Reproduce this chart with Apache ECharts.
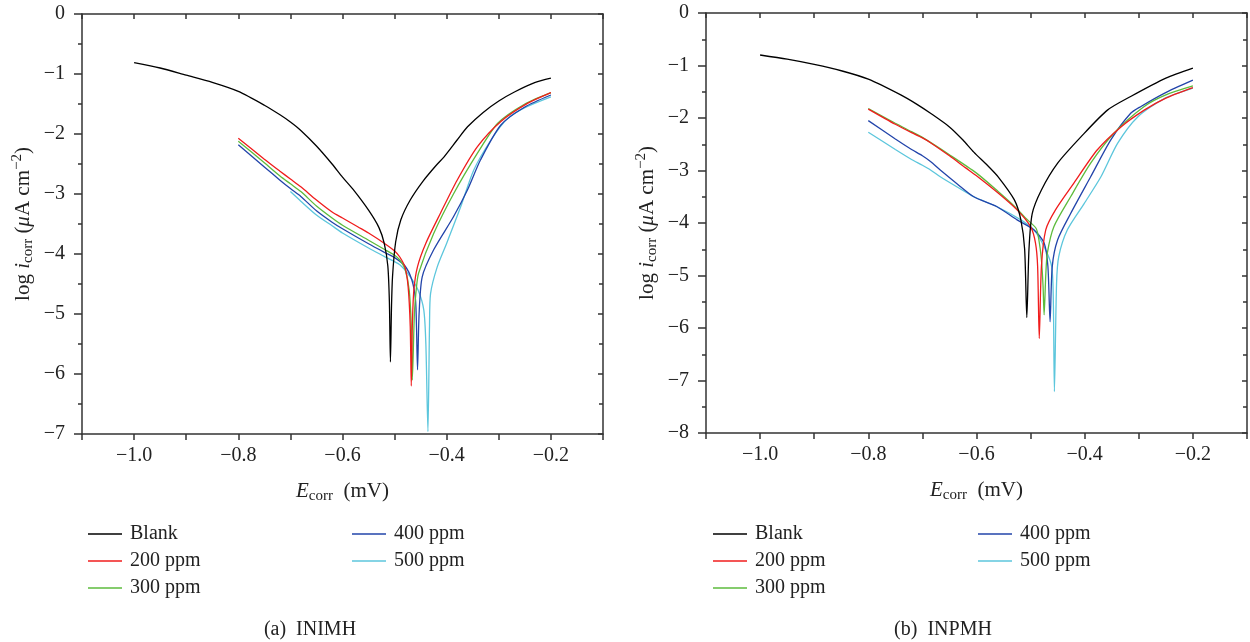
<!DOCTYPE html>
<html>
<head>
<meta charset="utf-8">
<script src="https://cdn.jsdelivr.net/npm/echarts@6/dist/echarts.min.js"></script>
<style>
html,body{margin:0;padding:0;background:#fff;}
#c{width:1250px;height:642px;}
</style>
</head>
<body>
<div id="c"></div>
<script>
// ---------- Data: [E_corr (mV), log i_corr] ----------
// (a) INIMH
const a_blank = [[-1.0,-0.81],[-0.95,-0.9],[-0.9,-1.02],[-0.85,-1.14],[-0.8,-1.29],[-0.75,-1.52],[-0.72,-1.68],[-0.7,-1.8],[-0.68,-1.94],[-0.65,-2.2],[-0.62,-2.5],[-0.6,-2.72],[-0.58,-2.92],[-0.55,-3.27],[-0.53,-3.56],[-0.52,-3.82],[-0.513,-4.2],[-0.51,-4.8],[-0.508,-5.8],[-0.506,-4.9],[-0.504,-4.38],[-0.498,-3.8],[-0.488,-3.43],[-0.47,-3.1],[-0.445,-2.78],[-0.42,-2.52],[-0.405,-2.38],[-0.38,-2.1],[-0.36,-1.88],[-0.33,-1.64],[-0.3,-1.45],[-0.27,-1.3],[-0.23,-1.14],[-0.2,-1.07]];
const a_200 = [[-0.8,-2.07],[-0.75,-2.42],[-0.72,-2.62],[-0.7,-2.75],[-0.68,-2.88],[-0.65,-3.1],[-0.62,-3.3],[-0.6,-3.4],[-0.57,-3.55],[-0.55,-3.65],[-0.52,-3.82],[-0.5,-3.95],[-0.49,-4.05],[-0.48,-4.22],[-0.474,-4.55],[-0.47,-5.2],[-0.468,-6.2],[-0.466,-5.2],[-0.463,-4.6],[-0.456,-4.21],[-0.44,-3.82],[-0.412,-3.32],[-0.38,-2.77],[-0.341,-2.21],[-0.296,-1.79],[-0.245,-1.49],[-0.2,-1.31]];
const a_300 = [[-0.8,-2.12],[-0.75,-2.48],[-0.72,-2.7],[-0.7,-2.83],[-0.68,-2.96],[-0.65,-3.2],[-0.62,-3.4],[-0.6,-3.52],[-0.55,-3.77],[-0.52,-3.92],[-0.5,-4.02],[-0.49,-4.1],[-0.48,-4.25],[-0.472,-4.6],[-0.468,-5.2],[-0.466,-6.1],[-0.462,-5.0],[-0.458,-4.55],[-0.454,-4.32],[-0.425,-3.66],[-0.387,-3.0],[-0.341,-2.32],[-0.302,-1.82],[-0.25,-1.5],[-0.2,-1.31]];
const a_400 = [[-0.8,-2.18],[-0.75,-2.55],[-0.72,-2.77],[-0.7,-2.91],[-0.68,-3.04],[-0.65,-3.28],[-0.62,-3.47],[-0.6,-3.58],[-0.55,-3.83],[-0.52,-3.97],[-0.5,-4.06],[-0.48,-4.2],[-0.467,-4.43],[-0.46,-4.75],[-0.458,-5.2],[-0.456,-5.93],[-0.453,-5.0],[-0.447,-4.38],[-0.425,-3.93],[-0.387,-3.38],[-0.36,-2.93],[-0.335,-2.43],[-0.296,-1.85],[-0.25,-1.55],[-0.2,-1.35]];
const a_500 = [[-0.7,-2.96],[-0.68,-3.12],[-0.65,-3.35],[-0.62,-3.53],[-0.6,-3.65],[-0.55,-3.9],[-0.52,-4.04],[-0.49,-4.18],[-0.47,-4.38],[-0.455,-4.6],[-0.444,-4.93],[-0.44,-5.5],[-0.436,-6.96],[-0.433,-5.2],[-0.431,-4.66],[-0.418,-4.21],[-0.4,-3.82],[-0.373,-3.21],[-0.348,-2.6],[-0.315,-2.1],[-0.283,-1.74],[-0.25,-1.56],[-0.2,-1.38]];
// (b) INPMH
const b_blank = [[-1.0,-0.8],[-0.95,-0.88],[-0.9,-0.98],[-0.85,-1.1],[-0.8,-1.26],[-0.74,-1.56],[-0.71,-1.74],[-0.685,-1.91],[-0.65,-2.17],[-0.625,-2.42],[-0.605,-2.65],[-0.58,-2.9],[-0.56,-3.12],[-0.53,-3.56],[-0.518,-3.94],[-0.511,-4.5],[-0.507,-5.8],[-0.503,-4.5],[-0.497,-3.82],[-0.48,-3.37],[-0.45,-2.86],[-0.407,-2.36],[-0.358,-1.85],[-0.315,-1.59],[-0.25,-1.24],[-0.2,-1.05]];
const b_200 = [[-0.8,-1.83],[-0.75,-2.12],[-0.72,-2.28],[-0.7,-2.38],[-0.685,-2.47],[-0.65,-2.72],[-0.62,-2.95],[-0.6,-3.1],[-0.56,-3.43],[-0.525,-3.75],[-0.5,-4.07],[-0.491,-4.38],[-0.487,-4.83],[-0.484,-6.2],[-0.48,-4.83],[-0.472,-4.13],[-0.454,-3.75],[-0.42,-3.24],[-0.377,-2.61],[-0.333,-2.17],[-0.29,-1.85],[-0.25,-1.62],[-0.2,-1.42]];
const b_300 = [[-0.8,-1.82],[-0.75,-2.1],[-0.72,-2.26],[-0.7,-2.37],[-0.65,-2.7],[-0.6,-3.05],[-0.56,-3.4],[-0.53,-3.68],[-0.51,-3.9],[-0.49,-4.1],[-0.485,-4.3],[-0.48,-4.7],[-0.477,-5.2],[-0.475,-5.75],[-0.472,-5.0],[-0.469,-4.57],[-0.457,-4.07],[-0.426,-3.5],[-0.389,-2.86],[-0.346,-2.29],[-0.29,-1.78],[-0.25,-1.56],[-0.2,-1.39]];
const b_400 = [[-0.8,-2.05],[-0.75,-2.4],[-0.72,-2.6],[-0.7,-2.72],[-0.685,-2.83],[-0.667,-2.99],[-0.635,-3.26],[-0.605,-3.5],[-0.562,-3.69],[-0.525,-3.94],[-0.494,-4.13],[-0.475,-4.38],[-0.468,-4.83],[-0.464,-5.88],[-0.46,-4.83],[-0.45,-4.32],[-0.426,-3.82],[-0.389,-3.12],[-0.352,-2.42],[-0.315,-1.91],[-0.296,-1.78],[-0.253,-1.53],[-0.2,-1.28]];
const b_500 = [[-0.8,-2.27],[-0.75,-2.6],[-0.72,-2.79],[-0.7,-2.9],[-0.685,-2.99],[-0.667,-3.12],[-0.635,-3.32],[-0.605,-3.5],[-0.562,-3.69],[-0.518,-3.94],[-0.494,-4.13],[-0.475,-4.45],[-0.461,-4.83],[-0.458,-5.47],[-0.456,-7.21],[-0.452,-5.15],[-0.448,-4.64],[-0.432,-4.13],[-0.401,-3.63],[-0.37,-3.12],[-0.339,-2.48],[-0.302,-1.98],[-0.253,-1.63],[-0.2,-1.43]];

const seriesNames = ['Blank','200 ppm','300 ppm','400 ppm','500 ppm'];
const legendCol1 = ['Blank','200 ppm','300 ppm'];
const legendCol2 = ['400 ppm','500 ppm'];
const xLabelValues = [-1.0,-0.8,-0.6,-0.4,-0.2];
const captions = ['(a)  INIMH','(b)  INPMH'];
const colors = ['#000000','#f01c1c','#5dbb3c','#2244aa','#5cc6dc'];

const FONT = '"Liberation Serif", "DejaVu Serif", serif';
const chart = echarts.init(document.getElementById('c'));

function minusFmt(v, dec){
  const s = Math.abs(v).toFixed(dec);
  return (v < -1e-9 ? '\u2212' : '') + s;
}
function xFmt(v){
  for (const t of xLabelValues){ if (Math.abs(v - t) < 1e-6) return minusFmt(v,1); }
  return '';
}
const richBase = {
  n:{fontFamily:FONT,fontSize:21,color:'#222',lineHeight:26},
  i:{fontFamily:FONT,fontSize:21,color:'#222',fontStyle:'italic',lineHeight:26},
  s:{fontFamily:FONT,fontSize:15,color:'#222',lineHeight:14,verticalAlign:'bottom'},
  p:{fontFamily:FONT,fontSize:15,color:'#222',lineHeight:14,verticalAlign:'top'}
};
const axisLineStyle = {color:'#333', width:1.5};

function makeAxes(gi, ymin){
  const xb = {type:'value', gridIndex:gi, min:-1.1, max:-0.1, interval:0.1, position:'bottom',
    axisLine:{show:true,onZero:false,lineStyle:axisLineStyle},
    axisTick:{show:true,inside:false,length:6,lineStyle:axisLineStyle},
    axisLabel:{formatter:xFmt,fontFamily:FONT,fontSize:20,color:'#222',margin:12,showMinLabel:true,showMaxLabel:true},
    splitLine:{show:false},
    name:'{i|E}{s|corr}{n|  (mV)}', nameLocation:'middle', nameGap:44,
    nameTextStyle:{rich:richBase}};
  const xt = {type:'value', gridIndex:gi, min:-1.1, max:-0.1, interval:0.1, position:'top',
    axisLine:{show:true,onZero:false,lineStyle:axisLineStyle},
    axisTick:{show:true,inside:true,length:5,lineStyle:axisLineStyle},
    axisLabel:{show:false}, splitLine:{show:false}};
  const yl = {type:'value', gridIndex:gi, min:ymin, max:0, interval:1, position:'left',
    axisLine:{show:true,onZero:false,lineStyle:axisLineStyle},
    axisTick:{show:true,inside:false,length:8,lineStyle:axisLineStyle},
    minorTick:{show:true,splitNumber:2,length:4,lineStyle:axisLineStyle},
    axisLabel:{formatter:v=>minusFmt(v,0),fontFamily:FONT,fontSize:20,color:'#222',margin:17},
    splitLine:{show:false},
    name:'{n|log }{i|i}{s|corr}{n| (}{i|\u03bc}{n|A cm}{p|\u22122}{n|)}', nameLocation:'middle', nameGap:46, nameRotate:90,
    nameTextStyle:{rich:richBase}};
  const yr = {type:'value', gridIndex:gi, min:ymin, max:0, interval:1, position:'right',
    axisLine:{show:true,onZero:false,lineStyle:axisLineStyle},
    axisTick:{show:true,inside:true,length:5,lineStyle:axisLineStyle},
    minorTick:{show:true,splitNumber:2,length:4,lineStyle:axisLineStyle},
    axisLabel:{show:false}, splitLine:{show:false}};
  return {x:[xb,xt], y:[yl,yr]};
}
const A0 = makeAxes(0,-7), A1 = makeAxes(1,-8);

const dataA = [a_blank,a_200,a_300,a_400,a_500];
const dataB = [b_blank,b_200,b_300,b_400,b_500];
const series = [];
function mkSeries(d,k,axisIdx){
  return {type:'line',name:seriesNames[k],xAxisIndex:axisIdx,yAxisIndex:axisIdx,data:d,symbol:'none',
    smooth:0.25,
    lineStyle:{color:colors[k],width:1.3},itemStyle:{color:colors[k]},z:10-k,animation:false};
}
dataA.forEach((d,k)=>series.push(mkSeries(d,k,0)));
dataB.forEach((d,k)=>series.push(mkSeries(d,k,2)));

function legend(data,left,top){
  return {data:data,left:left,top:top,orient:'vertical',icon:'rect',itemWidth:34,itemHeight:1.6,itemGap:7,
    selectedMode:false,
    textStyle:{fontFamily:FONT,fontSize:20,color:'#222',padding:[0,0,0,3]}};
}

chart.setOption({
  animation:false,
  backgroundColor:'#fff',
  grid:[{left:82,top:14,width:521,height:420},{left:706,top:13,width:541,height:420}],
  xAxis:[...A0.x,...A1.x],
  yAxis:[...A0.y,...A1.y],
  legend:[legend(legendCol1,83,519),legend(legendCol2,347,519),legend(legendCol1,708,519),legend(legendCol2,973,519)],
  title:[
    {text:captions[0],left:305,top:615,textAlign:'center',textStyle:{fontFamily:FONT,fontSize:20,fontWeight:'normal',color:'#222'}},
    {text:captions[1],left:938,top:615,textAlign:'center',textStyle:{fontFamily:FONT,fontSize:20,fontWeight:'normal',color:'#222'}}
  ],
  series:series
});
</script>
</body>
</html>
